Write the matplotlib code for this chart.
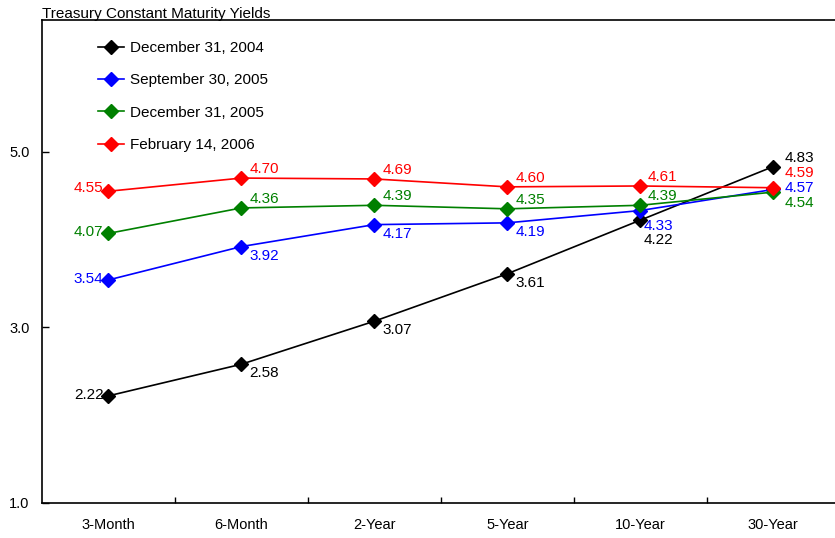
import matplotlib
matplotlib.use("Agg")
import matplotlib.pyplot as plt

plt.rcParams['font.family'] = ['Liberation Sans', 'DejaVu Sans']

categories = ["3-Month", "6-Month", "2-Year", "5-Year", "10-Year", "30-Year"]
series_names = ["December 31, 2004", "September 30, 2005", "December 31, 2005", "February 14, 2006"]
dec2004 = [2.22, 2.58, 3.07, 3.61, 4.22, 4.83]
sep2005 = [3.54, 3.92, 4.17, 4.19, 4.33, 4.57]
dec2005 = [4.07, 4.36, 4.39, 4.35, 4.39, 4.54]
feb2006 = [4.55, 4.70, 4.69, 4.60, 4.61, 4.59]
ytick_values = [1.0, 3.0, 5.0]

series = [dec2004, sep2005, dec2005, feb2006]
colors = ["#000000", "#0000FF", "#008000", "#FF0000"]

# label offsets in pixels (dx, dy, ha) per series per category
px = 72.0 / 100.0
offsets = [
    [(-5, 1, 'right'), (8, -9, 'left'), (8, -9, 'left'), (8, -9, 'left'), (4, -20, 'left'), (12, 9, 'left')],
    [(-5, 1, 'right'), (8, -9, 'left'), (8, -9, 'left'), (8, -9, 'left'), (4, -15, 'left'), (12, 1, 'left')],
    [(-5, 1, 'right'), (8, 9, 'left'), (8, 9, 'left'), (8, 9, 'left'), (8, 9, 'left'), (12, -11, 'left')],
    [(-5, 3, 'right'), (8, 9, 'left'), (8, 9, 'left'), (8, 9, 'left'), (8, 9, 'left'), (12, 15, 'left')],
]

fig = plt.figure(figsize=(8.35, 5.38), dpi=100)
ax = fig.add_axes([42 / 835, 35 / 538, 797.5 / 835, 483 / 538])

x = list(range(len(categories)))
for vals, name, col, offs in zip(series, series_names, colors, offsets):
    ax.plot(x, vals, color=col, lw=1.2, marker='D', markersize=7, label=name, zorder=3)
    for xi, v, (dx, dy, ha) in zip(x, vals, offs):
        ax.annotate(f"{v:.2f}", (xi, v), xytext=(dx * px, dy * px), textcoords='offset points',
                    ha=ha, va='center', color=col, fontsize=11)

ax.set_xlim(-0.5, len(categories) - 0.5)
ax.set_ylim(1.0, 6.5)
ax.set_yticks(ytick_values)
ax.set_yticklabels([f"{v:.1f}" for v in ytick_values], fontsize=10.5)
ax.set_xticks(x)
ax.set_xticklabels(categories, fontsize=10.5)
ax.tick_params(axis='x', which='major', length=0, pad=11)
ax.set_xticks([i + 0.5 for i in x[:-1]], minor=True)
ax.tick_params(axis='x', which='minor', direction='in', length=4, width=1)
ax.tick_params(axis='y', direction='in', length=5, width=1, pad=9)
ax.spines['right'].set_visible(False)
for s in ['left', 'bottom', 'top']:
    ax.spines[s].set_linewidth(1.2)

leg = ax.legend(loc='upper left', bbox_to_anchor=(0.053, 0.985), frameon=False, fontsize=11,
                labelspacing=1.2, handlelength=1.7, handletextpad=0.4)

fig.text(42 / 835, 1 - 14 / 538, "Treasury Constant Maturity Yields", fontsize=11, va='center', ha='left')

fig.savefig("out.png", dpi=100)
